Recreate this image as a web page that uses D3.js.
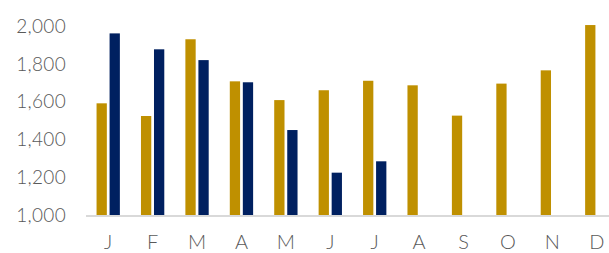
<!DOCTYPE html>
<html>
<head>
<meta charset="utf-8">
<script src="https://cdn.jsdelivr.net/npm/d3@7"></script>
<style>
  body { margin: 0; background: #fff; }
  svg { display: block; font-family: "Lato", "Noto Sans", sans-serif; font-weight: 300; }
</style>
</head>
<body>
<div id="chart"></div>
<script>
// chart data
const months = ["J", "F", "M", "A", "M", "J", "J", "A", "S", "O", "N", "D"];
const seriesA = [1592, 1525, 1930, 1708, 1609, 1661, 1711, 1687, 1527, 1696, 1766, 2005];
const seriesB = [1961, 1877, 1820, 1703, 1451, 1226, 1286, null, null, null, null, null];
const yTicks = [1000, 1200, 1400, 1600, 1800, 2000];

const width = 609, height = 253;
const margin = {left: 86, right: 619, top: 26, bottom: 215.5};

const svg = d3.select("#chart").append("svg")
    .attr("width", width)
    .attr("height", height);

// scales
const x0 = d3.scaleBand().domain(d3.range(months.length))
    .range([margin.left, margin.right]).paddingInner(0.475).paddingOuter(0.2375);
const x1 = d3.scaleBand().domain(["a", "b"])
    .range([0, x0.bandwidth()]).paddingInner(0.21);
const y = d3.scaleLinear().domain([1000, 2000]).range([margin.bottom, margin.top]);

const colors = {a: "#BF9000", b: "#002060"};

// bars
const groups = svg.selectAll(".grp")
    .data(months.map((m, i) => ({i, a: seriesA[i], b: seriesB[i]})))
    .enter().append("g")
    .attr("class", "grp")
    .attr("transform", d => `translate(${x0(d.i)},0)`);

groups.selectAll("rect")
    .data(d => ["a", "b"].filter(k => d[k] != null).map(k => ({k, v: d[k]})))
    .enter().append("rect")
    .attr("x", d => x1(d.k))
    .attr("y", d => y(d.v))
    .attr("width", x1.bandwidth())
    .attr("height", d => y(1000) - y(d.v))
    .attr("fill", d => colors[d.k]);

// baseline
svg.append("line")
    .attr("x1", margin.left).attr("x2", width)
    .attr("y1", y(1000) + 0.5).attr("y2", y(1000) + 0.5)
    .attr("stroke", "#d9d9d9")
    .attr("stroke-width", 2);

// y labels
const fmt = d3.format(",");
svg.selectAll(".ylab")
    .data(yTicks)
    .enter().append("text")
    .attr("class", "ylab")
    .attr("x", 66)
    .attr("y", d => y(d))
    .attr("dy", "0.35em")
    .attr("text-anchor", "end")
    .attr("font-size", 19)
    .attr("letter-spacing", 0.3)
    .attr("fill", "#595959")
    .text(d => fmt(d));

// x labels
svg.selectAll(".xlab")
    .data(months)
    .enter().append("text")
    .attr("class", "xlab")
    .attr("x", (d, i) => x0(i) + x0.bandwidth() / 2)
    .attr("y", 249)
    .attr("text-anchor", "middle")
    .attr("font-size", 20)
    .attr("fill", "#595959")
    .text(d => d);
</script>
</body>
</html>
